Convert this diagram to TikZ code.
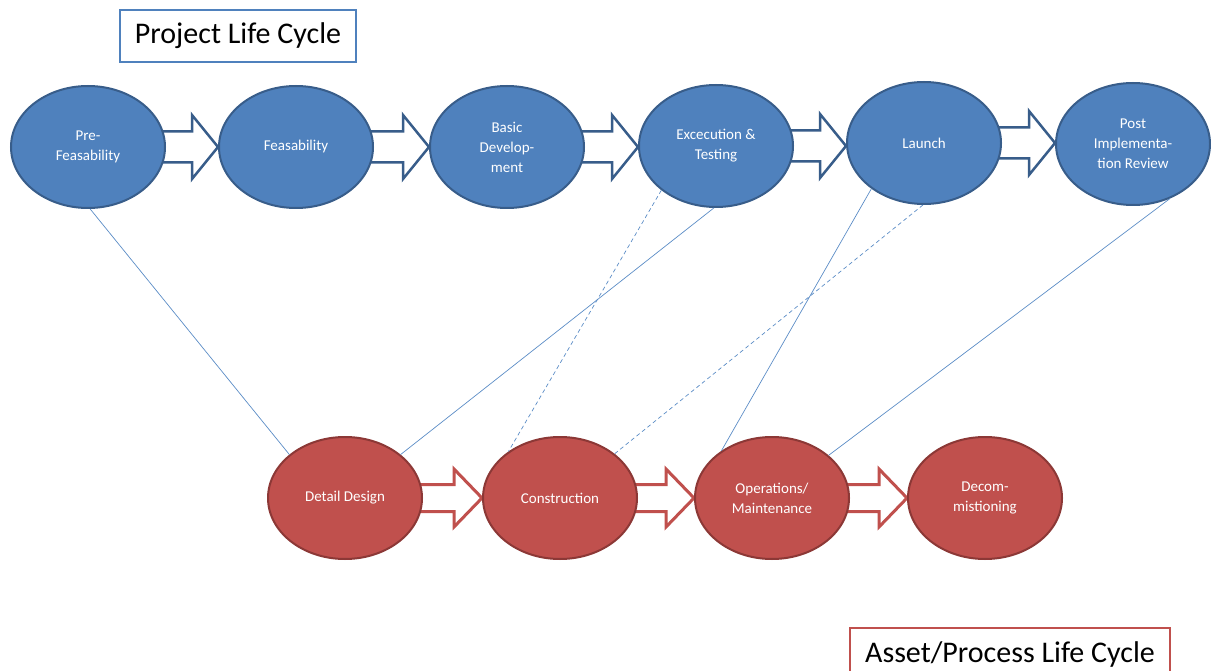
\documentclass[tikz,border=0pt]{standalone}
\usepackage{fontspec}
\setmainfont{Carlito}
\usetikzlibrary{shapes.geometric,calc,backgrounds}
\definecolor{projfill}{HTML}{4F81BD}
\definecolor{projline}{HTML}{385D8A}
\definecolor{assetfill}{HTML}{C0504D}
\definecolor{assetline}{HTML}{8C3836}
\definecolor{linkblue}{HTML}{5B8CC6}

% block arrow between two nodes: style, from, to, shaft half height, head half height, head length
\newcommand\blockarrow[6]{%
  \draw[#1] let \p1=(#2.east), \p2=(#3.west) in
    (\x1-4pt,\y1+#4) -- (\x2-#6,\y1+#4) -- (\x2-#6,\y1+#5) -- (\x2,\y1)
    -- (\x2-#6,\y1-#5) -- (\x2-#6,\y1-#4) -- (\x1-4pt,\y1-#4) -- cycle;}

\begin{document}
\begin{tikzpicture}[x=1pt,y=-1pt,
  phasebase/.style={ellipse, line width=2pt, minimum width=154pt, minimum height=122pt,
    inner sep=0pt, text=white, align=center, font=\fontsize{15}{20}\selectfont},
  projphase/.style={phasebase, draw=projline, fill=projfill},
  assetphase/.style={phasebase, draw=assetline, fill=assetfill},
  projarrow/.style={draw=projline, fill=white, line width=2.5pt, line join=miter},
  assetarrow/.style={draw=assetfill, fill=white, line width=3pt, line join=miter},
  link/.style={draw=linkblue, line width=0.7pt},
  dashlink/.style={link, dash pattern=on 4pt off 3pt},
  titlebox/.style={draw, line width=2.5pt, fill=white, minimum height=52pt, inner sep=0pt,
    text=black, font=\fontsize{30}{36}\selectfont}]

\useasboundingbox (0,0) rectangle (1211,671);
\clip (0,0) rectangle (1211,671);

% project life cycle phases
\node[projphase] (pre)    at (88,147)   {Pre-\\Feasability};
\node[projphase] (feas)   at (296,147)  {Feasability};
\node[projphase] (basic)  at (507,147)  {Basic\\Develop-\\ment};
\node[projphase] (exec)   at (716,146)  {Excecution \&\\Testing};
\node[projphase] (launch) at (924,143)  {Launch};
\node[projphase] (post)   at (1133,144) {Post\\Implementa-\\tion Review};

% asset / process life cycle phases
\node[assetphase] (detail) at (345,498) {Detail Design};
\node[assetphase] (constr) at (560,498) {Construction};
\node[assetphase] (ops)    at (772,498) {Operations/\\Maintenance};
\node[assetphase] (decom)  at (985,498) {Decom-\\mistioning};

% flow arrows, behind the phases
\begin{scope}[on background layer]
  \blockarrow{projarrow}{pre}{feas}{15.5pt}{32pt}{26pt}
  \blockarrow{projarrow}{feas}{basic}{15.5pt}{32pt}{26pt}
  \blockarrow{projarrow}{basic}{exec}{15.5pt}{32pt}{26pt}
  \blockarrow{projarrow}{exec}{launch}{15.5pt}{32pt}{26pt}
  \blockarrow{projarrow}{launch}{post}{15.5pt}{32pt}{26pt}
  \blockarrow{assetarrow}{detail}{constr}{13.5pt}{29pt}{28pt}
  \blockarrow{assetarrow}{constr}{ops}{13.5pt}{29pt}{28pt}
  \blockarrow{assetarrow}{ops}{decom}{13.5pt}{29pt}{28pt}
\end{scope}

% links between the two cycles
\draw[link]     (pre.-88)   -- (detail.142);
\draw[link]     (exec.-92)  -- (detail.38);
\draw[dashlink] (exec.219)  -- (constr.138);
\draw[dashlink] (launch.-91) -- (constr.39);
\draw[link]     (launch.221) -- (ops.137);
\draw[link]     (post.-56)  -- (ops.37);

% titles
\node[titlebox, draw=projfill, minimum width=236pt] (ptitle) at (238,36) {Project Life Cycle};
\node[titlebox, draw=assetfill, minimum width=320pt] (atitle) at (1010,654) {Asset/Process Life Cycle};

\end{tikzpicture}
\end{document}
